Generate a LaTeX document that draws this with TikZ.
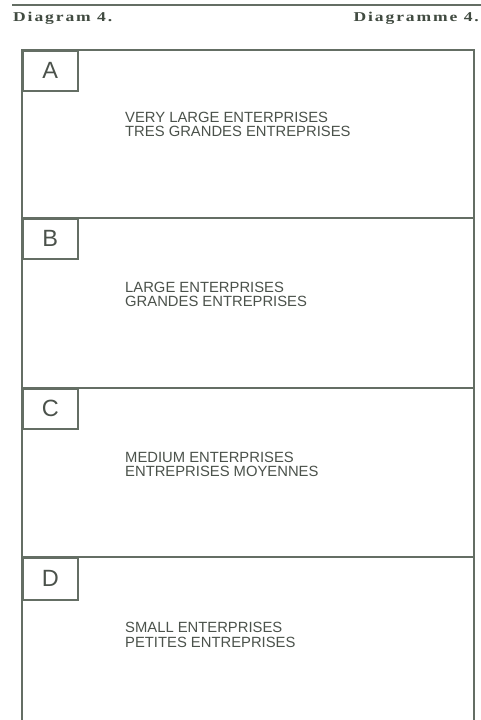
\documentclass[tikz,border=0pt]{standalone}
\usepackage{fontspec}
\setmainfont{Liberation Sans}
\newfontfamily\titlefont[FakeStretch=1.3,LetterSpace=14]{Liberation Serif}
\definecolor{linecol}{RGB}{100,110,100}
\definecolor{txtcol}{RGB}{75,82,75}
\definecolor{titlecol}{RGB}{65,75,65}
\begin{document}
\begin{tikzpicture}[x=1pt,y=-1pt,
  frame/.style={draw=linecol,line width=1.5pt},
  labelbox/.style={draw=linecol,line width=1.5pt,fill=white,inner sep=0pt,
    minimum width=55pt,minimum height=40pt,anchor=north west,
    font=\fontsize{23.5}{23.5}\selectfont,text=txtcol},
  bodytext/.style={inner sep=0pt,anchor=base west,text=txtcol,
    font=\fontsize{14.8}{14.8}\selectfont},
  titletext/.style={inner sep=0pt,text=titlecol,
    font=\titlefont\bfseries\fontsize{13.5}{13.5}\selectfont}]
\useasboundingbox (0,0) rectangle (481,720);
\fill[white] (0,0) rectangle (481,720);
% top rule
\coordinate (rl) at (12,4.5);
\coordinate (rr) at (481,4.5);
\draw[linecol,line width=2pt] (rl) -- (rr);
\node[titletext,anchor=base west] (tl) at (13,21) {Diagram 4.};
\node[titletext,anchor=base east] (tr) at (479,21) {Diagramme 4.};
% outer frame
\coordinate (f1) at (22,720);
\coordinate (f2) at (22,50);
\coordinate (f3) at (474,50);
\coordinate (f4) at (474,720);
\draw[frame] (f1) -- (f2) -- (f3) -- (f4);
% dividers
\coordinate (d1l) at (22,218); \coordinate (d1r) at (474,218);
\coordinate (d2l) at (22,388); \coordinate (d2r) at (474,388);
\coordinate (d3l) at (22,557); \coordinate (d3r) at (474,557);
\draw[frame] (d1l) -- (d1r);
\draw[frame] (d2l) -- (d2r);
\draw[frame] (d3l) -- (d3r);
% label boxes
\node[labelbox] (la) at (22,50) {A};
\node[labelbox] (lb) at (22,218) {B};
\node[labelbox] (lc) at (22,388) {C};
\node[labelbox,minimum height=42pt] (ld) at (22,557) {D};
% texts
\node[bodytext] (a1) at (125,122) {VERY LARGE ENTERPRISES};
\node[bodytext] (a2) at (125,136) {TRES GRANDES ENTREPRISES};
\node[bodytext] (b1) at (125,292.5) {LARGE ENTERPRISES};
\node[bodytext] (b2) at (125,306.5) {GRANDES ENTREPRISES};
\node[bodytext] (c1) at (125,462.5) {MEDIUM ENTERPRISES};
\node[bodytext] (c2) at (125,476.5) {ENTREPRISES MOYENNES};
\node[bodytext] (e1) at (125,632) {SMALL ENTERPRISES};
\node[bodytext] (e2) at (125,647) {PETITES ENTREPRISES};
\end{tikzpicture}
\end{document}
